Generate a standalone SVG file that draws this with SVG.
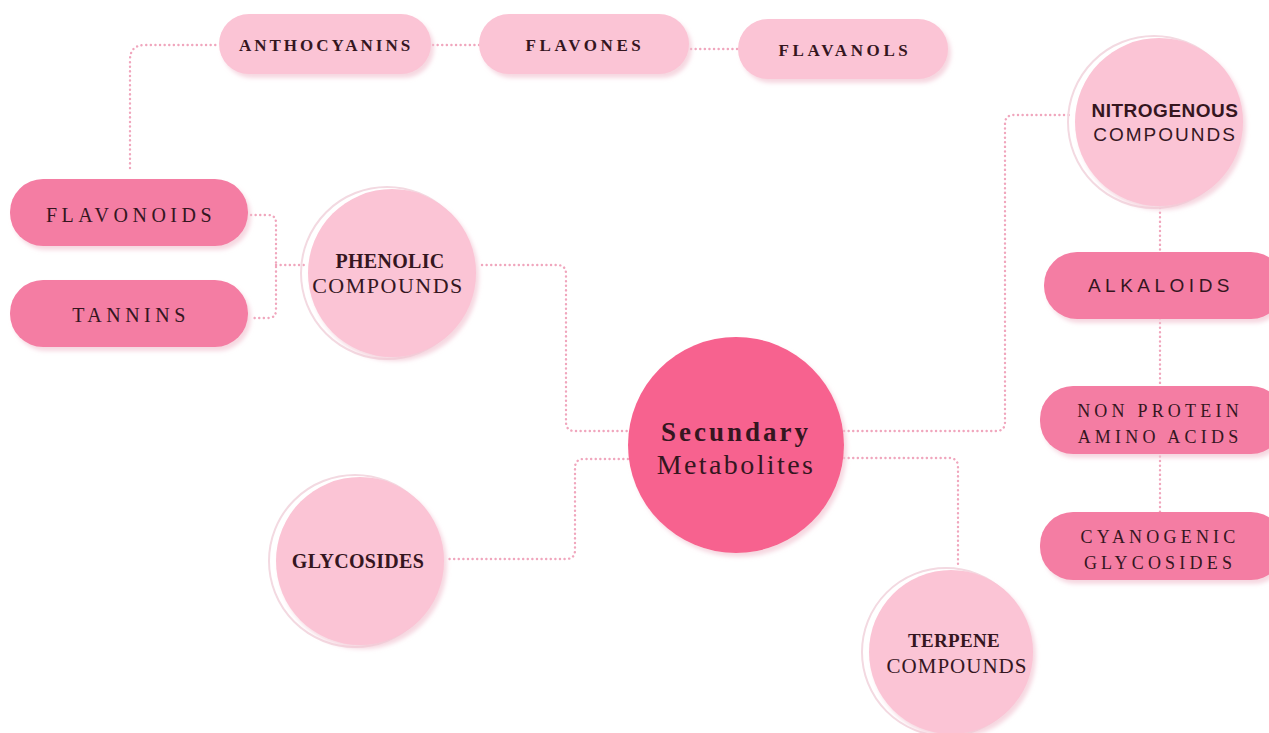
<svg xmlns="http://www.w3.org/2000/svg" width="1269" height="733" viewBox="0 0 1269 733">
<defs>
<filter id="sh" x="-20%" y="-20%" width="140%" height="140%">
<feDropShadow dx="3" dy="4" stdDeviation="2" flood-color="#f2c6d3" flood-opacity="0.7"/>
</filter>
</defs>
<style>
.lp{fill:#fbc4d5;filter:url(#sh)}
.dp{fill:#f47da3;filter:url(#sh)}
.ring{fill:none;stroke:#f3d9e1;stroke-width:2}
.main{fill:#f7628f;filter:url(#sh)}
.con{fill:none;stroke:#f0a6bd;stroke-width:2.4;stroke-dasharray:0.1 4.5;stroke-linecap:round}
.sb{font-family:"Liberation Serif",serif;font-weight:bold;fill:#35161f;text-anchor:middle}
.sr{font-family:"Liberation Serif",serif;fill:#35161f;text-anchor:middle}
.ns{font-family:"Liberation Sans",sans-serif;fill:#35161f;text-anchor:middle}
</style>
<rect width="1269" height="733" fill="#ffffff"/>
<g id="connectors">
<path class="con" d="M130,168 V60 Q130,45 145,45 H218"/>
<path class="con" d="M433,45 H480"/>
<path class="con" d="M691,49 H738"/>
<path class="con" d="M251,215 H268 Q276,215 276,223 V310 Q276,318 268,318 H251"/>
<path class="con" d="M276,265 H305"/>
<path class="con" d="M482,265 H557 Q566,265 566,274 V422 Q566,431 575,431 H628"/>
<path class="con" d="M844,431 H996 Q1005,431 1005,422 V124 Q1005,115 1014,115 H1072"/>
<path class="con" d="M628,459 H584 Q575,459 575,468 V550 Q575,559 566,559 H446"/>
<path class="con" d="M844,458 H949 Q958,458 958,467 V568"/>
<path class="con" d="M1160,208 V513"/>
</g>
<g id="anthocyanins">
<rect class="lp" x="219" y="14" width="212" height="60" rx="30"/>
<text class="sb" x="326" y="51" font-size="17" letter-spacing="3">ANTHOCYANINS</text>
</g>
<g id="flavones">
<rect class="lp" x="479" y="14" width="210" height="60" rx="30"/>
<text class="sb" x="585" y="51" font-size="17" letter-spacing="3.6">FLAVONES</text>
</g>
<g id="flavanols">
<rect class="lp" x="738" y="19" width="210" height="60" rx="30"/>
<text class="sb" x="845" y="56" font-size="17" letter-spacing="3.6">FLAVANOLS</text>
</g>
<g id="flavonoids">
<rect class="dp" x="10" y="179" width="238" height="67" rx="33"/>
<text class="sr" x="131" y="222" font-size="20" letter-spacing="4.5">FLAVONOIDS</text>
</g>
<g id="tannins">
<rect class="dp" x="10" y="280" width="238" height="67" rx="33"/>
<text class="sr" x="131" y="322" font-size="20" letter-spacing="4.5">TANNINS</text>
</g>
<g id="phenolic">
<circle class="ring" cx="387" cy="273" r="86"/>
<circle class="lp" cx="392" cy="273" r="84"/>
<text class="sb" x="390" y="268" font-size="20" letter-spacing="0.3">PHENOLIC</text>
<text class="sr" x="388" y="293" font-size="22" letter-spacing="1.5">COMPOUNDS</text>
</g>
<g id="secundary">
<circle class="main" cx="736" cy="445" r="108"/>
<text class="sb" x="736" y="441" font-size="27" letter-spacing="3">Secundary</text>
<text class="sr" x="736" y="474" font-size="28" letter-spacing="2.4">Metabolites</text>
</g>
<g id="nitrogenous">
<circle class="ring" cx="1154" cy="122" r="86"/>
<circle class="lp" cx="1159" cy="122" r="84"/>
<text class="ns" x="1165" y="117" font-size="19" font-weight="bold" letter-spacing="0.5">NITROGENOUS</text>
<text class="ns" x="1165" y="141" font-size="19" letter-spacing="2">COMPOUNDS</text>
</g>
<g id="alkaloids">
<rect class="dp" x="1044" y="252" width="240" height="67" rx="33"/>
<text class="ns" x="1161" y="292" font-size="19" letter-spacing="4.5">ALKALOIDS</text>
</g>
<g id="nonprotein">
<rect class="dp" x="1040" y="386" width="244" height="68" rx="33"/>
<text class="sr" x="1160" y="417" font-size="18" letter-spacing="4.2">NON PROTEIN</text>
<text class="sr" x="1160" y="443" font-size="18" letter-spacing="4.2">AMINO ACIDS</text>
</g>
<g id="cyanogenic">
<rect class="dp" x="1040" y="512" width="244" height="68" rx="33"/>
<text class="sr" x="1160" y="543" font-size="18" letter-spacing="4.2">CYANOGENIC</text>
<text class="sr" x="1160" y="569" font-size="18" letter-spacing="4.2">GLYCOSIDES</text>
</g>
<g id="glycosides">
<circle class="ring" cx="355" cy="561" r="86"/>
<circle class="lp" cx="360" cy="561" r="84"/>
<text class="sb" x="358" y="568" font-size="20" letter-spacing="0.3">GLYCOSIDES</text>
</g>
<g id="terpene">
<circle class="ring" cx="946" cy="652" r="84"/>
<circle class="lp" cx="951" cy="652" r="82"/>
<text class="sb" x="954" y="647" font-size="19" letter-spacing="0.3">TERPENE</text>
<text class="sr" x="957" y="673" font-size="21" letter-spacing="1">COMPOUNDS</text>
</g>
</svg>
